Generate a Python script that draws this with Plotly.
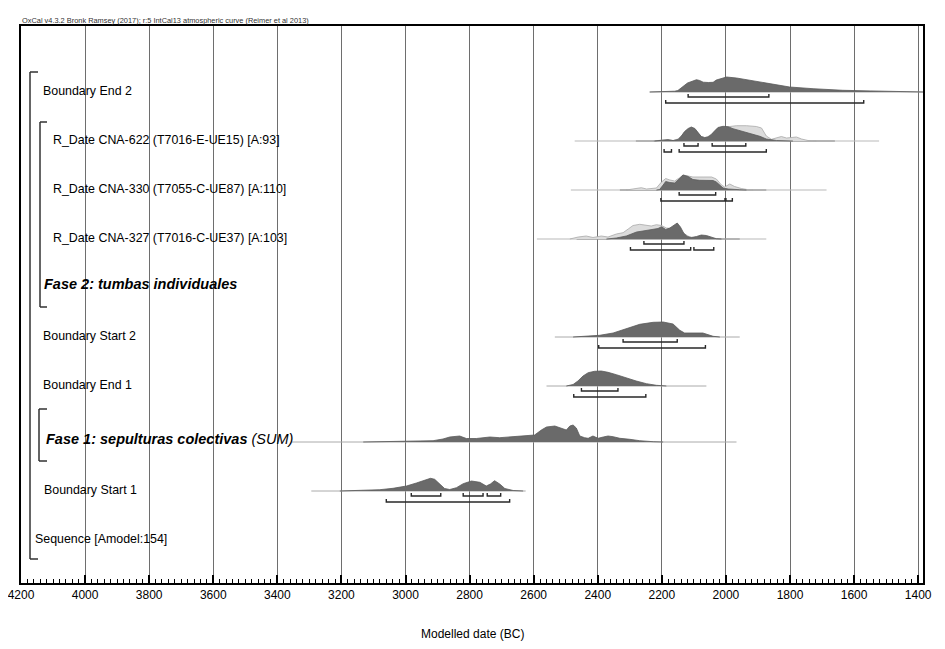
import plotly.graph_objects as go

# ---- data (years BC, relative probability) ----
header_text = "OxCal v4.3.2 Bronk Ramsey (2017); r:5 IntCal13 atmospheric curve (Reimer et al 2013)"
axis_title = "Modelled date (BC)"
tick_years = list(range(4200, 1399, -200))

labels = [
    "Boundary End 2",
    "R_Date CNA-622 (T7016-E-UE15) [A:93]",
    "R_Date CNA-330 (T7055-C-UE87) [A:110]",
    "R_Date CNA-327 (T7016-C-UE37) [A:103]",
    "<b><i>Fase 2: tumbas individuales</i></b>",
    "Boundary Start 2",
    "Boundary End 1",
    "<b><i>Fase 1: sepulturas colectivas</i></b><i> (SUM)</i>",
    "Boundary Start 1",
    "Sequence [Amodel:154]",
]

# Boundary End 2
be2_years = [2238, 2195, 2186, 2175, 2160, 2150, 2139, 2120, 2103, 2092, 2082, 2071, 2055, 2040,
             2030, 2015, 1998, 1967, 1936, 1894, 1853, 1801, 1728, 1635, 1550, 1478, 1420, 1385]
be2_prob = [0, 0.2, 0.8, 1.0, 0.8, 1.5, 4.5, 9, 11, 12.3, 11.5, 9.8, 9.5, 9.7,
            12, 13.5, 15, 14, 12.3, 9.7, 7.3, 5, 3.3, 1.7, 1.1, 0.7, 0.4, 0.2]
be2_span = [2238, 1385]
be2_s1 = [(2118, 1866)]
be2_s2 = [(2188, 1570)]

# R_Date CNA-622
c622_prior_years = [2227, 2196, 2181, 2165, 2150, 2139, 2129, 2118, 2108, 2097, 2087, 2077, 2066, 2056,
                    2045, 2035, 2025, 2009, 1988, 1967, 1936, 1905, 1889, 1874, 1858, 1842, 1827,
                    1811, 1796, 1780, 1764, 1744, 1718]
c622_prior_prob = [0, 1, 1.5, 0.5, 2, 5, 9, 11.5, 13, 11.5, 7.5, 4.5, 3.5, 4.5,
                   7, 10.5, 12.5, 13, 14.5, 15.3, 15.3, 14.5, 13, 5, 1.7, 3, 4.5,
                   3, 3.5, 4, 2, 0.5, 0]
c622_post_years = [2223, 2196, 2181, 2165, 2149, 2139, 2129, 2118, 2108, 2097, 2087, 2077, 2066, 2056,
                   2045, 2035, 2025, 2009, 1993, 1978, 1957, 1936, 1915, 1894, 1874, 1842, 1791]
c622_post_prob = [0, 0.8, 1.3, 0.4, 1.5, 5, 9.5, 12.5, 14, 12.5, 8, 4.5, 3.3, 4,
                  6.5, 10.5, 13.5, 14.7, 14.3, 12.3, 10.5, 9, 7, 4.7, 2, 0.5, 0]
c622_prior_span = [2472, 1522]
c622_post_span = [2281, 1660]
c622_s1 = [(2131, 2087), (2043, 1938)]
c622_s2 = [(2193, 2170), (2146, 1874)]

# R_Date CNA-330
c330_prior_years = [2311, 2279, 2264, 2248, 2217, 2201, 2188, 2175, 2160, 2146, 2134, 2118, 2103, 2071,
                    2045, 2030, 2014, 2004, 1988, 1973, 1952, 1931, 1915]
c330_prior_prob = [0, 1.5, 2.3, 1, 2, 8, 11.5, 10, 9, 12, 15, 14, 13, 13,
                   13, 11, 5, 3, 6, 3.5, 1.5, 0.3, 0]
c330_post_years = [2217, 2207, 2196, 2188, 2175, 2160, 2146, 2134, 2118, 2103, 2082, 2056, 2040, 2030,
                   2019, 2009, 1993, 1978, 1957, 1936]
c330_post_prob = [0, 0.5, 5, 8.5, 7.5, 7, 11, 15, 13.5, 10.5, 9.7, 9.7, 9.5, 8,
                  4.5, 2, 1, 1, 0.3, 0]
c330_prior_span = [2484, 1686]
c330_post_span = [2331, 1874]
c330_s1 = [(2146, 2032)]
c330_s2 = [(2203, 2003), (2000, 1980)]

# R_Date CNA-327
c327_prior_years = [2487, 2461, 2436, 2415, 2389, 2368, 2342, 2321, 2305, 2290, 2269, 2248, 2233, 2217,
                    2201, 2186, 2170, 2155, 2134, 2113, 2082, 2050]
c327_prior_prob = [0, 2, 3, 1.5, 3, 2, 5, 6.3, 10, 13.5, 14.7, 14, 13, 14.3,
                   13.5, 11, 10.5, 10, 6, 2, 0.5, 0]
c327_post_years = [2373, 2342, 2311, 2279, 2259, 2243, 2227, 2212, 2201, 2188, 2175, 2163, 2152, 2142,
                   2132, 2121, 2108, 2092, 2077, 2061, 2045, 2030, 2014]
c327_post_prob = [0, 1, 3, 7, 8, 9, 9.7, 10.5, 12.3, 9.5, 11, 14, 16, 12,
                  6, 2.5, 1.5, 2.5, 4, 3.5, 2, 0.3, 0]
c327_prior_span = [2590, 1874]
c327_post_span = [2466, 1957]
c327_s1 = [(2256, 2131)]
c327_s2 = [(2298, 2110), (2100, 2038)]

# Boundary Start 2
bs2_years = [2477, 2425, 2394, 2352, 2311, 2269, 2227, 2196, 2165, 2144, 2129, 2103, 2072, 2040, 2019]
bs2_prob = [0, 0.7, 1.7, 4, 8, 12.7, 14.7, 15, 13, 6.7, 4, 4.3, 4, 0.7, 0]
bs2_span = [2534, 1957]
bs2_s1 = [(2321, 2152)]
bs2_s2 = [(2397, 2064)]

# Boundary End 1
be1_years = [2498, 2477, 2462, 2446, 2430, 2410, 2389, 2368, 2342, 2311, 2280, 2248, 2217, 2186]
be1_prob = [0, 1.5, 5, 10, 13.3, 14.7, 15, 13.7, 11.3, 8, 5, 2.3, 0.7, 0]
be1_span = [2560, 2061]
be1_s1 = [(2451, 2337)]
be1_s2 = [(2475, 2250)]

# Fase 1 (SUM)
f1_years = [3132, 3080, 2997, 2914, 2883, 2862, 2831, 2810, 2779, 2737, 2706, 2664, 2623, 2597,
            2576, 2560, 2534, 2513, 2498, 2487, 2477, 2467, 2456, 2441, 2430, 2415, 2399, 2383,
            2368, 2352, 2331, 2300, 2269, 2227, 2196]
f1_prob = [0, 0.3, 0.7, 1.3, 3, 5, 6, 3.5, 3.5, 5, 4.3, 5.3, 6, 7,
           12, 15, 16, 13.7, 12, 16, 17, 14, 6, 4.3, 3.7, 6, 3.7, 5,
           6, 5.3, 3.7, 2.7, 1.3, 0.3, 0]
f1_span = [3355, 1967]

# Boundary Start 1
bs1_years = [3205, 3132, 3080, 3039, 2997, 2966, 2940, 2922, 2909, 2893, 2878, 2862, 2841, 2820,
             2794, 2768, 2748, 2735, 2722, 2706, 2690, 2664, 2633]
bs1_prob = [0, 0.5, 1.3, 2.7, 5, 8, 11, 12.7, 11.7, 7, 2.5, 1.5, 3.3, 7.3,
            10, 8.7, 5, 7, 10.3, 7, 2.5, 0.5, 0]
bs1_span = [3294, 2625]
bs1_s1 = [(2982, 2890), (2820, 2758), (2745, 2703)]
bs1_s2 = [(3060, 2675)]

# ---- layout (pixel positions on the 945x649 page) ----
PAGE_W, PAGE_H = 945, 649
BODY = 8  # default page margin around the plotly div
W, H = PAGE_W - 2 * BODY, PAGE_H - 2 * BODY
L, R, T, B = 21, 923, 26, 583  # plot frame, page pixels
row_y = [92, 141, 190, 239, 287, 337, 386, 442, 491, 540]
label_x = [43, 53, 53, 53, 44, 43, 43, 46, 44, 35]
label_size = [12.4, 12.4, 12.4, 12.4, 14.5, 12.4, 12.4, 14.5, 12.4, 12.4]

DARK = "rgb(106,106,106)"
DARK_EDGE = "rgb(90,90,90)"
LIGHT = "rgb(220,220,220)"
FONT = "Liberation Sans, Arial, sans-serif"


def px(x):
    return (x - L) / (R - L)


fig = go.Figure()


def add_line(span, base, color, width=1):
    fig.add_trace(go.Scatter(x=span, y=[base, base], mode="lines",
                             line=dict(color=color, width=width),
                             hoverinfo="skip", showlegend=False))


def add_dist(years, prob, base, fill, edge):
    ys = [base - p for p in prob]
    fig.add_trace(go.Scatter(x=[years[0]] + years + [years[-1]],
                             y=[base] + ys + [base],
                             mode="lines", fill="toself", fillcolor=fill,
                             line=dict(color=edge, width=0.8),
                             hoverinfo="skip", showlegend=False))


def add_brackets(ranges, y):
    xs, ys = [], []
    for a, b in ranges:
        xs += [a, a, b, b, None]
        ys += [y - 3, y, y, y - 3, None]
    fig.add_trace(go.Scatter(x=xs, y=ys, mode="lines",
                             line=dict(color="rgb(40,40,40)", width=1.4),
                             hoverinfo="skip", showlegend=False))


# Boundary End 2
add_line(be2_span, row_y[0], "rgb(170,170,170)")
add_dist(be2_years, be2_prob, row_y[0], DARK, DARK_EDGE)
add_brackets(be2_s1, row_y[0] + 5)
add_brackets(be2_s2, row_y[0] + 11)

# R_Dates: unmodelled likelihood (light) behind posterior (dark)
for i, (ps, qs, py, pp, qy, qp, s1, s2) in enumerate([
    (c622_prior_span, c622_post_span, c622_prior_years, c622_prior_prob,
     c622_post_years, c622_post_prob, c622_s1, c622_s2),
    (c330_prior_span, c330_post_span, c330_prior_years, c330_prior_prob,
     c330_post_years, c330_post_prob, c330_s1, c330_s2),
    (c327_prior_span, c327_post_span, c327_prior_years, c327_prior_prob,
     c327_post_years, c327_post_prob, c327_s1, c327_s2),
], start=1):
    base = row_y[i]
    add_line(ps, base, "rgb(185,185,185)")
    add_line(qs, base, "rgb(140,140,140)")
    add_dist(py, pp, base, LIGHT, "rgb(170,170,170)")
    add_dist(qy, qp, base, DARK, DARK_EDGE)
    add_brackets(s1, base + 5)
    add_brackets(s2, base + 11)

for span, yrs, pr, s1, s2, r in [
    (bs2_span, bs2_years, bs2_prob, bs2_s1, bs2_s2, 5),
    (be1_span, be1_years, be1_prob, be1_s1, be1_s2, 6),
    (bs1_span, bs1_years, bs1_prob, bs1_s1, bs1_s2, 8),
]:
    add_line(span, row_y[r], "rgb(170,170,170)")
    add_dist(yrs, pr, row_y[r], DARK, DARK_EDGE)
    add_brackets(s1, row_y[r] + 5)
    add_brackets(s2, row_y[r] + 11)

# Fase 1 sum
add_line(f1_span, row_y[7], "rgb(170,170,170)")
add_dist(f1_years, f1_prob, row_y[7], DARK, DARK_EDGE)

# labels
for text, y, x, s in zip(labels, row_y, label_x, label_size):
    yy = y - 1 if s < 13 else y - 3
    fig.add_annotation(text=text, x=px(x), xref="paper", y=yy, yref="y",
                       xanchor="left", yanchor="middle", showarrow=False,
                       borderpad=0, xshift=-1,
                       font=dict(size=s, color="black", family=FONT))

# model structure brackets on the left
for xv, top, bot, xe in [(30, 72, 559, 38), (40, 122, 307, 47), (39, 409, 461, 47)]:
    for x0, y0, x1, y1 in [(xv, top, xv, bot), (xv, top, xe, top), (xv, bot, xe, bot)]:
        fig.add_shape(type="line", xref="paper", yref="y",
                      x0=px(x0), y0=y0, x1=px(x1), y1=y1,
                      line=dict(color="rgb(50,50,50)", width=1.5))

fig.add_annotation(text=header_text, x=0, xref="paper", y=1, yref="paper",
                   xanchor="left", yanchor="bottom", showarrow=False, borderpad=0,
                   font=dict(size=7.4, color="rgb(50,50,50)", family=FONT))
fig.add_annotation(text=axis_title, x=0.5, xref="paper", y=(B - 634) / (B - T), yref="paper",
                   xanchor="center", yanchor="middle", showarrow=False, borderpad=0,
                   font=dict(size=12, color="black", family=FONT))

fig.update_layout(
    width=W, height=H, autosize=False,
    margin=dict(l=L - BODY, r=W - (R - BODY), t=T - BODY, b=H - (B - BODY), pad=0,
                autoexpand=False),
    paper_bgcolor="white", plot_bgcolor="white",
    font=dict(family=FONT, color="black"),
    showlegend=False,
    xaxis=dict(range=[4200, 1385], tickvals=tick_years, ticktext=[str(t) for t in tick_years],
               ticks="inside", ticklen=8, tickwidth=1.5, tickcolor="black",
               minor=dict(dtick=20, tick0=0, ticks="inside", ticklen=4, tickwidth=1,
                          tickcolor="black", showgrid=False),
               showgrid=True, gridcolor="rgb(110,110,110)", gridwidth=1,
               showline=True, mirror=True, linecolor="black", linewidth=2,
               zeroline=False, automargin=False, ticklabeloverflow="allow",
               tickfont=dict(size=12, color="black", family=FONT),
               fixedrange=True),
    yaxis=dict(range=[B, T], showgrid=False, zeroline=False, showticklabels=False,
               ticks="", showline=True, mirror=True, linecolor="black", linewidth=2,
               automargin=False, fixedrange=True),
)

fig.write_html("out.html")
